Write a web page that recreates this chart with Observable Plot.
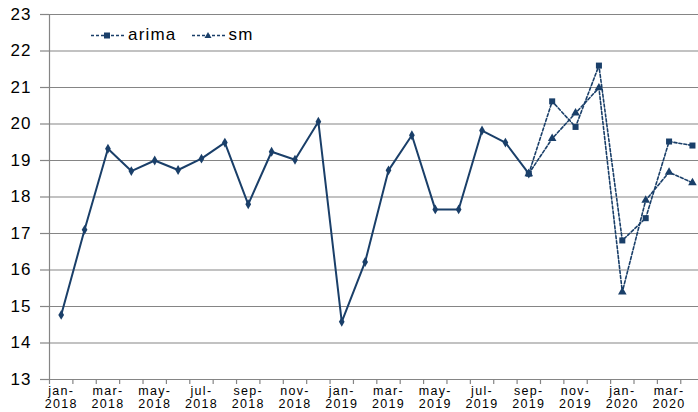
<!DOCTYPE html>
<html>
<head>
<meta charset="utf-8">
<script src="https://cdn.jsdelivr.net/npm/d3@7"></script>
<script src="https://cdn.jsdelivr.net/npm/@observablehq/plot@0.6"></script>
<style>
  html, body { margin: 0; padding: 0; background: #fff; }
  #wrap { position: relative; width: 698px; height: 412px; overflow: hidden; font-family: "Liberation Sans", Arial, sans-serif; }
  #legend { position: absolute; left: 91px; top: 25px; display: flex; align-items: center; font-size: 17px; letter-spacing: 1.2px; color: #000; }
  #legend .item { display: flex; align-items: center; margin-right: 15px; }
  #legend svg { margin-right: 3px; }
  g[aria-label="x-axis tick label"] text { letter-spacing: 1.3px; }
  g[aria-label="y-axis tick label"] text { letter-spacing: 1px; }
</style>
</head>
<body>
<div id="wrap"><div id="chart"></div><div id="legend"></div></div>
<script>
const months = ["jan-2018","feb-2018","mar-2018","apr-2018","may-2018","jun-2018","jul-2018","aug-2018","sep-2018","oct-2018","nov-2018","dec-2018",
  "jan-2019","feb-2019","mar-2019","apr-2019","may-2019","jun-2019","jul-2019","aug-2019","sep-2019","oct-2019","nov-2019","dec-2019",
  "jan-2020","feb-2020","mar-2020","apr-2020"];
const actual = [14.77, 17.10, 19.32, 18.71, 19.00, 18.74, 19.05, 19.49, 17.80, 19.24, 19.02, 20.06,
  14.58, 16.22, 18.73, 19.69, 17.66, 17.66, 19.82, 19.49, 18.64];
const forecastMonths = ["sep-2019","oct-2019","nov-2019","dec-2019","jan-2020","feb-2020","mar-2020","apr-2020"];
const arima = [18.64, 20.62, 19.92, 21.60, 16.81, 17.42, 19.52, 19.41];
const sm = [18.64, 19.60, 20.30, 20.99, 15.40, 17.91, 18.68, 18.39];
const yTicks = [13, 14, 15, 16, 17, 18, 19, 20, 21, 22, 23];
const seriesNames = ["arima", "sm"];

const color = "#1a3f69";
const idx = m => months.indexOf(m);
const actualData = actual.map((v, i) => ({i, v}));
const arimaData = arima.map((v, k) => ({i: idx(forecastMonths[k]), v}));
const smData = sm.map((v, k) => ({i: idx(forecastMonths[k]), v}));
const boundaries = d3.range(months.length + 1).map(i => i - 0.5);
const labelIdx = d3.range(0, months.length, 2);
const fmtLabel = i => { const [m, y] = months[i].split("-"); return m + "-\n" + y; };

const chart = Plot.plot({
  width: 698,
  height: 412,
  marginLeft: 49,
  marginRight: 0,
  marginTop: 14,
  marginBottom: 33,
  style: {fontFamily: "'Liberation Sans', Arial, sans-serif", background: "#fff", color: "#000"},
  x: {domain: [-0.5, months.length - 0.5], range: [49, 49 + months.length * 23.38], axis: null},
  y: {domain: [13, 23], axis: null},
  marks: [
    Plot.gridY(yTicks, {stroke: "#858585", strokeOpacity: 1, strokeWidth: 1.2}),
    Plot.ruleX([-0.5], {y1: 13, y2: 23, stroke: "#858585", strokeWidth: 1.2}),
    Plot.axisY({ticks: yTicks, label: null, tickSize: 9, tickPadding: 9, fontSize: 17, stroke: "#858585", strokeWidth: 1.2}),
    Plot.axisX({ticks: boundaries, label: null, tickSize: 5, tickFormat: () => "", stroke: "#858585", strokeWidth: 1.2}),
    Plot.axisX({ticks: labelIdx, label: null, tickSize: 0, tickPadding: 7, tickFormat: fmtLabel, fontSize: 12.5, lineHeight: 1}),
    Plot.line(arimaData, {x: "i", y: "v", stroke: color, strokeWidth: 1.6, strokeDasharray: "3,2"}),
    Plot.line(smData, {x: "i", y: "v", stroke: color, strokeWidth: 1.6, strokeDasharray: "3,2"}),
    Plot.line(actualData, {x: "i", y: "v", stroke: color, strokeWidth: 2}),
    Plot.dot(actualData, {x: "i", y: "v", symbol: "diamond", r: 3, fill: color}),
    Plot.dot(arimaData, {x: "i", y: "v", symbol: "square", r: 3.4, fill: color}),
    Plot.dot(smData, {x: "i", y: "v", symbol: "triangle", r: 3.2, fill: color})
  ]
});
document.getElementById("chart").appendChild(chart);

// legend
const leg = document.getElementById("legend");
const markers = {
  arima: `<rect x="13" y="5.5" width="6" height="6" fill="${color}"/>`,
  sm: `<path d="M16,5 L19.5,11 L12.5,11 Z" fill="${color}"/>`
};
seriesNames.forEach(name => {
  const item = document.createElement("div");
  item.className = "item";
  item.innerHTML = `<svg width="34" height="17"><line x1="0" y1="8.5" x2="34" y2="8.5" stroke="${color}" stroke-width="1.5" stroke-dasharray="3,2"/>${markers[name]}</svg><span>${name}</span>`;
  leg.appendChild(item);
});
</script>
</body>
</html>
